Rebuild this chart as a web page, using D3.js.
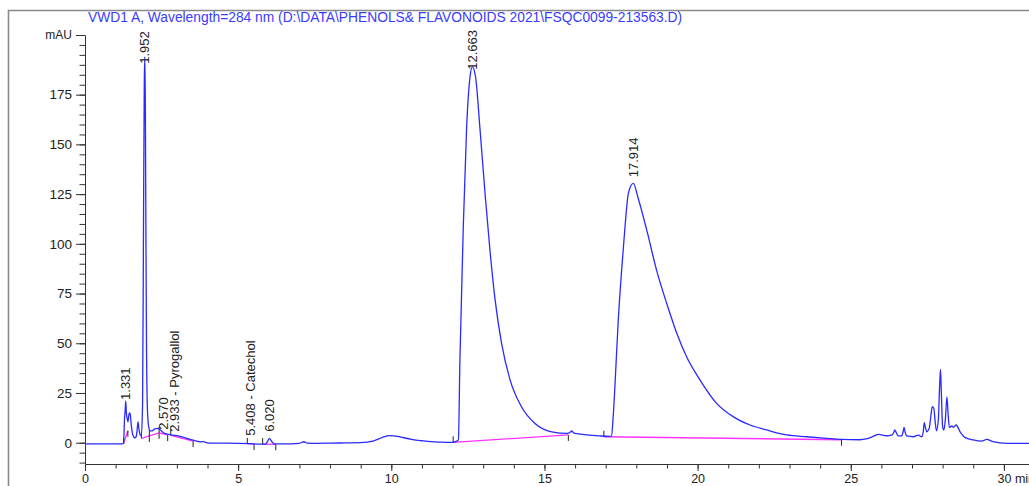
<!DOCTYPE html>
<html>
<head>
<meta charset="utf-8">
<script src="https://cdn.jsdelivr.net/npm/d3@7"></script>
<style>
  html, body { margin: 0; padding: 0; background: #fff; }
  svg { display: block; }
  .axis text { font-family: Arial, "Liberation Sans", sans-serif; font-size: 13.5px; fill: #222; }
  .axis path, .axis line { stroke: #333; }
  .x-axis text { font-size: 12.5px; }
  .peak-label { font-family: Arial, "Liberation Sans", sans-serif; font-size: 13px; fill: #222; }
</style>
</head>
<body>
<svg id="chrom" width="1029" height="486"></svg>
<script>

/*********************/
/*** INIT VARIABLE ***/
/*********************/

var title = "VWD1 A, Wavelength=284 nm (D:\\DATA\\PHENOLS& FLAVONOIDS 2021\\FSQC0099-213563.D)";

// signal: time (min) and absorbance (mAU)
var trace_time = [
    0, 1.0, 1.22, 1.26, 1.29, 1.31, 1.33, 1.35, 1.38, 1.40, 1.44, 1.47, 1.51, 1.56, 1.62, 1.67, 1.70, 1.73, 1.76, 1.80,
    1.84, 1.88, 1.91, 1.935, 1.952, 1.97, 1.99, 2.01, 2.04, 2.08, 2.13, 2.20, 2.28, 2.38, 2.45, 2.52, 2.60, 2.70, 2.80, 2.93,
    3.05, 3.20, 3.35, 3.50, 3.65, 3.78, 3.88, 3.95, 4.2, 4.6, 5.0, 5.4, 5.7, 5.90, 5.97, 6.02, 6.08, 6.18, 6.5, 7.0,
    7.15, 7.25, 7.6, 8.0, 8.5, 9.0, 9.4, 9.7, 9.95, 10.2, 10.4, 10.7, 11.0, 11.3, 11.6, 11.97, 12.1, 12.19, 12.24, 12.35,
    12.46, 12.57, 12.645, 12.75, 12.89, 13.06, 13.22, 13.39, 13.60, 13.88, 14.25, 14.69, 15.24, 15.73, 15.85, 15.89, 15.95, 16.11, 16.38, 16.81,
    17.14, 17.19, 17.24, 17.30, 17.41, 17.52, 17.63, 17.74, 17.90, 18.06, 18.34, 18.66, 18.99, 19.32, 19.64, 20.08, 20.62, 21.16, 21.71, 22.26,
    22.91, 23.56, 24.21, 24.70, 25.30, 25.50, 25.75, 25.90, 26.17, 26.33, 26.40, 26.44, 26.50, 26.55, 26.66, 26.71, 26.74, 26.78, 26.83, 27.04,
    27.21, 27.32, 27.37, 27.40, 27.44, 27.48, 27.56, 27.62, 27.66, 27.71, 27.76, 27.80, 27.86, 27.90, 27.93, 27.96, 28.00, 28.04, 28.09, 28.14,
    28.18, 28.22, 28.30, 28.35, 28.44, 28.57, 28.73, 29.00, 29.28, 29.44, 29.65, 30.09, 31.0
];
var trace_mau = [
    -0.6, -0.6, -0.6, 0, 12, 16, 21, 15, 12, 10.5, 14.5, 15, 9, 4, 2.5, 3, 6, 10.5, 7, 4,
    3.5, 20, 110, 180, 194, 170, 100, 45, 16, 8, 6, 6, 7, 7.2, 6.5, 5.5, 4.7, 4.3, 3.9, 3.7,
    3.4, 2.8, 2.1, 1.4, 0.8, 0.4, 0.6, 0.1, -0.2, -0.2, -0.3, -0.5, -0.7, -0.7, 1.0, 2.2, 1.0, -0.6, -0.6, -0.3,
    0.5, -0.2, -0.3, -0.2, -0.1, 0.0, 0.8, 2.6, 3.6, 3.2, 2.5, 1.6, 1.0, 0.5, 0.3, 0.2, 0.6, 1.4, 41.6, 108.6,
    158.9, 184, 189, 184, 158.9, 125.4, 96.9, 71.7, 50, 31.5, 18.1, 9.7, 5.5, 4.7, 5.4, 5.9, 5.0, 4.5, 3.9, 3.4,
    3.2, 3.4, 12, 28.2, 61.7, 86.8, 108.6, 125.4, 130.4, 122.9, 106.9, 86.8, 70.1, 55.0, 43.2, 31.5, 19.8, 13.1, 8.9, 6.4,
    3.9, 3.0, 2.2, 1.7, 1.5, 1.9, 3.3, 4.2, 3.5, 3.8, 5.0, 6.4, 4.5, 3.4, 3.4, 5.5, 7.7, 5.0, 3.4, 3.0,
    3.8, 3.0, 6, 10.1, 7.5, 5.5, 7.2, 14, 18.1, 17.3, 10, 6.0, 11.7, 28, 36.9, 24, 8.0, 6.4, 12, 23.1,
    14, 7.7, 8.4, 7.7, 8.9, 5.5, 2.7, 1.4, 0.8, 1.7, 0.5, -0.3, -0.3
];

// integrated peaks: retention time, label, height the label sits on (mAU)
var peak_rt     = [1.331, 1.952, 2.570, 2.933, 5.408, 6.020, 12.663, 17.914];
var peak_names  = ["1.331", "1.952", "2.570", "2.933 -  Pyrogallol", "5.408 -  Catechol", "6.020", "12.663", "17.914"];
var peak_height = [21, 190, 6, 5, 3, 5, 187, 133];

// drawn baselines: [start time, start mAU, end time, end mAU]
var baselines = [
    [1.26, -0.5, 1.40, 6.0],
    [1.84, 2.2, 2.10, 3.4],
    [2.10, 3.4, 2.42, 5.0],
    [2.42, 5.0, 2.70, 3.8],
    [2.80, 3.7, 3.53, 0.8],
    [5.30, -0.6, 5.52, -0.7],
    [5.80, -0.7, 6.23, -0.8],
    [12.02, 0.2, 15.78, 3.9],
    [16.94, 3.0, 24.70, 1.5]
];

var x_major = [0, 5, 10, 15, 20, 25, 30];
var y_major = [0, 25, 50, 75, 100, 125, 150, 175];
var y_top   = 205;

var svg = d3.select('#chrom');

var margin = {left: 85, right: 0, top: 35, bottom: 22},
    width  = 1029,
    height = 486;

/********************************/
/*** DECLARE HELPER FUNCTIONS ***/
/********************************/

var x = d3.scaleLinear()
    .domain([0, (width - margin.left) / 30.63])
    .range([margin.left, width]);

var y = d3.scaleLinear()
    .domain([-10.7, y_top])
    .range([height - margin.bottom, margin.top]);

function render_chrom() {
    svg.append('rect').attr('width', width).attr('height', height).attr('fill', '#fff');

    // page frame around the plot
    svg.append('path')
        .attr('d', 'M8.5,486 V10.5 H1029')
        .attr('fill', 'none')
        .attr('stroke', '#8a8a8a')
        .attr('stroke-width', 1.6);

    svg.append('text')
        .attr('x', 88)
        .attr('y', 22)
        .attr('font-family', 'Arial, "Liberation Sans", sans-serif')
        .attr('font-size', '13.8px')
        .attr('fill', '#3b3bff')
        .text(title);

    // minor ticks first, majors on top
    svg.append('g')
        .attr('class', 'axis')
        .attr('transform', `translate(0, ${y.range()[0]})`)
        .call(d3.axisBottom(x).tickValues(d3.range(0, 31, 1)).tickFormat('').tickSizeInner(4.5).tickSizeOuter(0));

    var xg = svg.append('g')
        .attr('class', 'axis x-axis')
        .attr('transform', `translate(0, ${y.range()[0]})`)
        .call(d3.axisBottom(x).tickValues(x_major).tickFormat(d3.format('d')).tickSizeInner(7).tickSizeOuter(0).tickPadding(3));

    xg.append('text')
        .attr('x', x(30) + 11)
        .attr('y', 10)
        .attr('dy', '0.71em')
        .attr('text-anchor', 'start')
        .text('min');

    svg.append('g')
        .attr('class', 'axis')
        .attr('transform', `translate(${margin.left}, 0)`)
        .call(d3.axisLeft(y).tickValues(d3.range(-10, y_top + 1, 5)).tickFormat('').tickSizeInner(5.5).tickSizeOuter(0));

    svg.append('g')
        .attr('class', 'axis')
        .attr('transform', `translate(${margin.left}, 0)`)
        .call(d3.axisLeft(y).tickValues(y_major.concat([y_top])).tickSizeInner(9).tickSizeOuter(0).tickPadding(4)
                .tickFormat(function(d) { return d == y_top ? 'mAU' : d; }))
        .selectAll('text')
        .filter(function(d) { return d == y_top; })
        .style('font-size', '12px');

    // baselines under the signal
    var bl = svg.append('g');
    for (var i = 0; i < baselines.length; i++) {
        var b = baselines[i];
        bl.append('line')
            .attr('x1', x(b[0])).attr('y1', y(b[1]))
            .attr('x2', x(b[2])).attr('y2', y(b[3]))
            .attr('stroke', '#ff33ff')
            .attr('stroke-width', 1.3);
        // start tick up, end tick down
        bl.append('line')
            .attr('x1', x(b[0])).attr('x2', x(b[0]))
            .attr('y1', y(b[1]) - 6).attr('y2', y(b[1]))
            .attr('stroke', '#222');
        bl.append('line')
            .attr('x1', x(b[2])).attr('x2', x(b[2]))
            .attr('y1', y(b[3])).attr('y2', y(b[3]) + 6)
            .attr('stroke', '#222');
    }

    var trace = d3.zip(trace_time, trace_mau);

    svg.append('path')
        .datum(trace)
        .attr('fill', 'none')
        .attr('stroke', '#2a2aff')
        .attr('stroke-width', 1.3)
        .attr('stroke-linejoin', 'round')
        .attr('d', d3.line()
            .curve(d3.curveMonotoneX)
            .x(function(d) { return x(d[0]); })
            .y(function(d) { return y(d[1]); }));

    // retention time labels, written upwards from the apex
    for (var j = 0; j < peak_rt.length; j++) {
        var px = x(peak_rt[j]),
            py = y(peak_height[j]) - 1;

        svg.append('text')
            .classed('peak-label', true)
            .attr('transform', `translate(${px}, ${py}) rotate(-90)`)
            .attr('dy', '0.35em')
            .text(peak_names[j]);
    }
}

render_chrom();
</script>
</body>
</html>
